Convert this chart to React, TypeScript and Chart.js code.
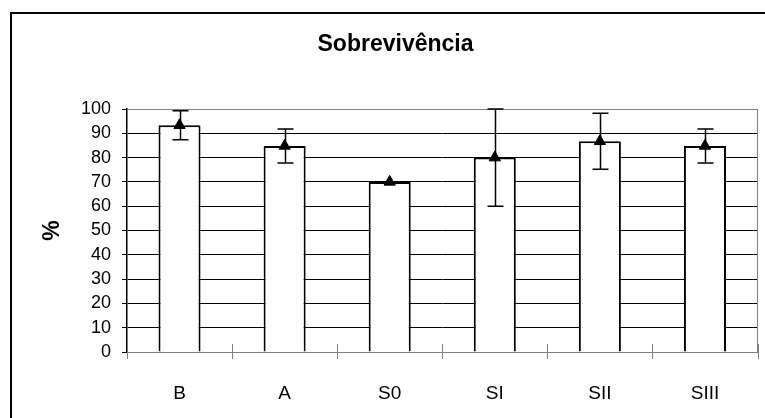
import React, { useEffect, useRef } from "react";
import { Chart, registerables } from "chart.js";

Chart.register(...registerables);

const categories = ["B", "A", "S0", "SI", "SII", "SIII"];
const survival = [93.3, 84.8, 70, 80, 86.7, 84.8];
const errors = [6, 7, 0, 20, 11.5, 7];
const yTickValues = [0, 10, 20, 30, 40, 50, 60, 70, 80, 90, 100];

const FONT = "'Liberation Sans', Arial, sans-serif";

const errorBarPlugin = {
  id: "errorBars",
  afterDatasetsDraw(chart: any) {
    const ctx = chart.ctx;
    const yScale = chart.scales.y;
    const meta = chart.getDatasetMeta(0);
    ctx.save();
    ctx.strokeStyle = "#000";
    ctx.lineWidth = 1.5;
    meta.data.forEach((pt: any, i: number) => {
      const e = errors[i];
      if (!e) return;
      const x = Math.round(pt.x) + 0.5;
      const top = yScale.getPixelForValue(survival[i] + e);
      const bottom = yScale.getPixelForValue(survival[i] - e);
      const cap = 8;
      ctx.beginPath();
      ctx.moveTo(x, top);
      ctx.lineTo(x, bottom);
      ctx.moveTo(x - cap, top);
      ctx.lineTo(x + cap, top);
      ctx.moveTo(x - cap, bottom);
      ctx.lineTo(x + cap, bottom);
      ctx.stroke();
    });
    ctx.restore();
  },
};

const frameAndTicksPlugin = {
  id: "frameAndTicks",
  beforeDatasetsDraw(chart: any) {
    const ctx = chart.ctx;
    const xScale = chart.scales.x;
    const area = chart.chartArea;
    ctx.save();
    ctx.strokeStyle = "#808080";
    ctx.lineWidth = 1;
    const rx = Math.round(area.right) - 0.5;
    ctx.beginPath();
    ctx.moveTo(rx, area.top);
    ctx.lineTo(rx, area.bottom);
    ctx.stroke();
    for (let i = 0; i <= categories.length; i++) {
      const x = Math.round(xScale.getPixelForValue(i - 0.5)) + 0.5;
      ctx.beginPath();
      ctx.moveTo(x, area.bottom - 8);
      ctx.lineTo(x, area.bottom + 7);
      ctx.stroke();
    }
    ctx.restore();
  },
};

export default function App() {
  const canvasRef = useRef<HTMLCanvasElement | null>(null);

  useEffect(() => {
    if (!canvasRef.current) return;
    Chart.defaults.font.family = FONT;
    Chart.defaults.color = "#000";
    const chart = new Chart(canvasRef.current, {
      type: "bar",
      data: {
        labels: categories,
        datasets: [
          {
            type: "line",
            label: "média",
            data: survival,
            showLine: false,
            pointStyle: "triangle",
            pointRadius: 6.5,
            pointBackgroundColor: "#000",
            pointBorderColor: "#000",
            pointBorderWidth: 1,
            order: 0,
          } as any,
          {
            type: "bar",
            label: "Sobrevivência",
            data: survival,
            backgroundColor: "#fff",
            borderColor: "#000",
            borderWidth: 2,
            barPercentage: 0.4,
            categoryPercentage: 1.0,
            order: 1,
          },
        ],
      },
      options: {
        responsive: false,
        animation: false,
        devicePixelRatio: 1,
        layout: { padding: { left: 29, right: 3, top: 0, bottom: 0 } },
        plugins: {
          legend: { display: false },
          tooltip: { enabled: false },
          title: {
            display: true,
            text: "Sobrevivência",
            color: "#000",
            font: { family: FONT, size: 23, weight: "bold" },
            padding: { top: 31, bottom: 50.4 },
          },
        },
        scales: {
          x: {
            grid: { display: false },
            border: { display: true, color: "#808080", width: 1 },
            ticks: {
              color: "#000",
              font: { family: FONT, size: 19 },
              padding: 22,
              maxRotation: 0,
            },
            afterFit: (s: any) => {
              s.height = 66;
            },
          },
          y: {
            min: 0,
            max: 100,
            afterBuildTicks: (s: any) => {
              s.ticks = yTickValues.map((v) => ({ value: v }));
            },
            grid: {
              color: (c: any) =>
                c.tick && (c.tick.value === 100 || c.tick.value === 0) ? "#808080" : "#000",
              tickColor: "#000",
              tickLength: 5,
              lineWidth: 1,
            },
            border: { display: true, color: "#000", width: 1.5 },
            ticks: {
              color: "#000",
              font: { family: FONT, size: 18 },
              padding: 11,
              autoSkip: false,
            },
            title: {
              display: true,
              text: "%",
              color: "#000",
              font: { family: FONT, size: 23, weight: "bold" },
              padding: { top: 10, bottom: 0 },
            },
            afterFit: (s: any) => {
              s.width = 98;
            },
          },
        },
      },
      plugins: [frameAndTicksPlugin, errorBarPlugin],
    });
    return () => chart.destroy();
  }, []);

  return (
    <div
      style={{
        position: "fixed",
        left: 0,
        top: 0,
        width: 765,
        height: 418,
        overflow: "hidden",
        background: "#fff",
      }}
    >
      <div
        style={{
          position: "absolute",
          left: 10,
          top: 12,
          width: 800,
          height: 450,
          border: "2px solid #000",
        }}
      />
      <canvas
        ref={canvasRef}
        width={765}
        height={418}
        style={{ position: "absolute", left: 0, top: 0, width: 765, height: 418 }}
      />
    </div>
  );
}
